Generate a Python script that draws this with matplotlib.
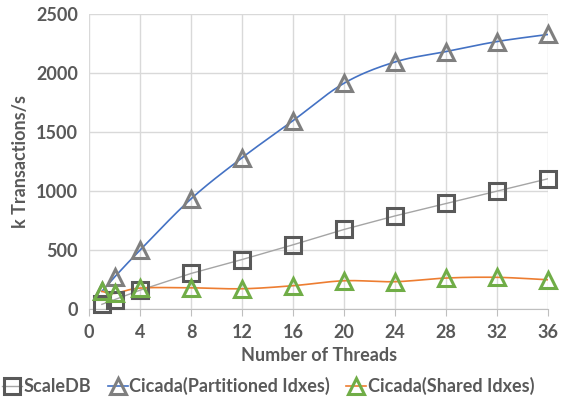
"""Throughput vs. thread count for ScaleDB and two Cicada configurations."""

import matplotlib
import matplotlib.pyplot as plt
import numpy as np

matplotlib.use("Agg")

threads = [1, 2, 4, 8, 12, 16, 20, 24, 28, 32, 36]
scaledb = [40, 80, 160, 302, 420, 545, 675, 790, 895, 1000, 1105]
cicada_part = [150, 272, 500, 935, 1283, 1598, 1915, 2095, 2183, 2268, 2328]
cicada_shared = [150, 133, 178, 180, 172, 198, 240, 232, 263, 269, 248]

x_ticks = [0, 4, 8, 12, 16, 20, 24, 28, 32, 36]
y_ticks = [0, 500, 1000, 1500, 2000, 2500]

TEXT = "#595959"
FONT = "Lato"
FS = 13


def smooth(xs, ys, n=20):
    """Catmull-Rom style curve like Excel's 'smoothed line'."""
    xs = np.asarray(xs, float)
    ys = np.asarray(ys, float)
    px = np.concatenate([[xs[0]], xs, [xs[-1]]])
    py = np.concatenate([[ys[0]], ys, [ys[-1]]])
    out_x, out_y = [], []
    t = np.linspace(0, 1, n)
    for i in range(1, len(px) - 2):
        p0, p1, p2, p3 = (np.array([px[j], py[j]]) for j in range(i - 1, i + 3))
        c1 = p1 + (p2 - p0) / 6
        c2 = p2 - (p3 - p1) / 6
        for tt in t:
            b = ((1 - tt) ** 3) * p1 + 3 * (1 - tt) ** 2 * tt * c1 + 3 * (1 - tt) * tt ** 2 * c2 + tt ** 3 * p2
            out_x.append(b[0])
            out_y.append(b[1])
    return out_x, out_y


fig = plt.figure(figsize=(5.64, 4.04), dpi=100)
ax = fig.add_axes([0.158, 0.235, 0.814, 0.73])

ax.plot(threads, scaledb, color="#A5A5A5", linewidth=1.0, zorder=2)
ax.plot(threads, scaledb, linestyle="none", marker="s", markersize=11, clip_on=False,
        markerfacecolor="none", markeredgecolor="#595959", markeredgewidth=2.2, zorder=4)

sx, sy = smooth(threads, cicada_part)
ax.plot(sx, sy, color="#4472C4", linewidth=1.2, zorder=2)
ax.plot(threads, cicada_part, linestyle="none", marker="^", markersize=12, clip_on=False,
        markerfacecolor="none", markeredgecolor="#7F7F7F", markeredgewidth=2.2, zorder=4)

sx, sy = smooth(threads, cicada_shared)
ax.plot(sx, sy, color="#ED7D31", linewidth=1.2, zorder=3)
ax.plot(threads, cicada_shared, linestyle="none", marker="^", markersize=12, clip_on=False,
        markerfacecolor="none", markeredgecolor="#70AD47", markeredgewidth=2.2, zorder=5)

ax.set_xlim(0, 36)
ax.set_ylim(0, 2500)
ax.set_xticks(x_ticks)
ax.set_yticks(y_ticks)
ax.grid(True, color="#D9D9D9", linewidth=1.0)
ax.set_axisbelow(True)
for side in ["top", "right", "left"]:
    ax.spines[side].set_visible(False)
ax.spines["bottom"].set_color("#BFBFBF")
ax.tick_params(axis="y", length=0, pad=8)
ax.tick_params(axis="x", length=5, color="#BFBFBF", pad=6)
for lbl in ax.get_xticklabels() + ax.get_yticklabels():
    lbl.set_fontfamily(FONT)
    lbl.set_fontweight("bold")
    lbl.set_fontsize(FS)
    lbl.set_color(TEXT)

ax.set_xlabel("Number of Threads", fontfamily=FONT, fontweight="bold",
              fontsize=FS, color=TEXT, labelpad=4)
ax.set_ylabel("k Transactions/s", fontfamily=FONT, fontweight="bold",
              fontsize=FS, color=TEXT, labelpad=5)

handles = [
    plt.Line2D([], [], color="#A5A5A5", linewidth=1.0, marker="s", markersize=11,
               markerfacecolor="none", markeredgecolor="#595959", markeredgewidth=2.2),
    plt.Line2D([], [], color="#4472C4", linewidth=1.2, marker="^", markersize=12,
               markerfacecolor="none", markeredgecolor="#7F7F7F", markeredgewidth=2.2),
    plt.Line2D([], [], color="#ED7D31", linewidth=1.2, marker="^", markersize=12,
               markerfacecolor="none", markeredgecolor="#70AD47", markeredgewidth=2.2),
]
names = ["ScaleDB", "Cicada(Partitioned Idxes)", "Cicada(Shared Idxes)"]
leg = fig.legend(handles, names, loc="center", bbox_to_anchor=(0.476, 0.045), ncol=3,
                 frameon=False, handlelength=1.1, handletextpad=0.1, columnspacing=0.9,
                 prop={"family": FONT, "weight": "bold", "size": FS})
for t in leg.get_texts():
    t.set_color(TEXT)

fig.savefig("out.png", dpi=100)
plt.close(fig)
